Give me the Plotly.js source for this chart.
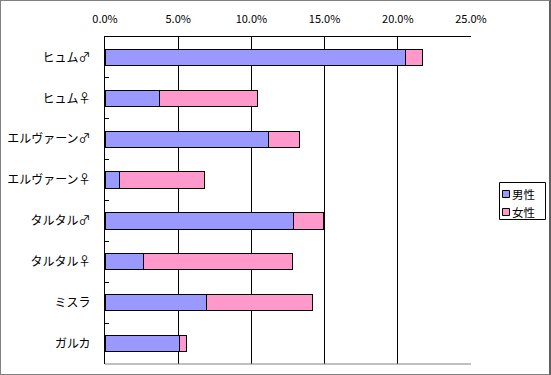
<!DOCTYPE html>
<html><head><meta charset="utf-8">
<script src="https://cdn.plot.ly/plotly-3.0.1.min.js"></script>
<style>
html,body{margin:0;padding:0;background:#fff}
#frame{position:absolute;left:0;top:0;width:551px;height:375px;box-sizing:border-box;border:1px solid #808080;border-right:2px solid #606060;pointer-events:none;z-index:10}
</style>
</head><body>
<div id="chart" style="width:551px;height:375px"></div><div id="frame"></div>
<script>
const categories = ['ヒュム♂','ヒュム♀','エルヴァーン♂','エルヴァーン♀','タルタル♂','タルタル♀','ミスラ','ガルカ'];
const seriesNames = ['男性','女性'];
const maleValues = [20.5, 3.7, 11.2, 1.0, 12.9, 2.6, 6.9, 5.1];
const femaleValues = [1.2, 6.7, 2.1, 5.8, 2.0, 10.2, 7.3, 0.5];
const xTickValues = [0, 5, 10, 15, 20, 25];
const xTickLabels = ['0.0%','5.0%','10.0%','15.0%','20.0%','25.0%'];

const colors = ['#9999FF', '#FF99CC'];
const font = 'Noto Sans CJK JP, sans-serif';

const M = {l: 105, r: 80, t: 37, b: 11};
const W = 551, H = 375;
const pw = W - M.l - M.r, ph = H - M.t - M.b;
const px = x => (x - M.l) / pw;
const py = y => (H - M.b - y) / ph;

const traces = [maleValues, femaleValues].map((vals, i) => ({
  type: 'bar', orientation: 'h',
  name: seriesNames[i], x: vals, y: categories,
  marker: {color: colors[i], line: {color: '#000', width: 1}},
  hoverinfo: 'none', showlegend: false
}));

// custom legend (box + swatches + names)
const shapes = [
  {type: 'line', xref: 'paper', yref: 'paper', x0: 0, x1: 1, y0: 0, y1: 0, line: {color: '#808080', width: 1}},
  {type: 'rect', xref: 'paper', yref: 'paper', x0: px(499.5), x1: px(545.5), y0: py(182.5), y1: py(219.5),
   line: {color: '#000', width: 1}, fillcolor: '#fff'}
];
const annotations = [];
seriesNames.forEach((name, i) => {
  const cy = 194 + i * 18;
  shapes.push({type: 'rect', xref: 'paper', yref: 'paper', x0: px(502.5), x1: px(509.5), y0: py(cy - 3.5), y1: py(cy + 3.5),
    line: {color: '#000', width: 1}, fillcolor: colors[i]});
  annotations.push({xref: 'paper', yref: 'paper', x: px(511), y: py(cy), xanchor: 'left', yanchor: 'middle',
    text: name, showarrow: false, borderpad: 0, font: {family: font, size: 11.5, color: '#000'}});
});

const layout = {
  width: W, height: H,
  margin: {l: M.l, r: M.r, t: M.t, b: M.b, pad: 0},
  paper_bgcolor: '#fff', plot_bgcolor: '#fff',
  barmode: 'stack', bargap: 0.6,
  font: {family: font, size: 12, color: '#000'},
  xaxis: {
    side: 'top', range: [0, 25], tickvals: xTickValues, ticktext: xTickLabels,
    showgrid: true, gridcolor: '#000', gridwidth: 1,
    showline: true, linecolor: '#000', linewidth: 1,
    ticks: '', zeroline: false, ticklabelstandoff: 9,
    tickfont: {family: font, size: 11, color: '#000'}
  },
  yaxis: {
    type: 'category', autorange: 'reversed',
    showline: true, linecolor: '#000', linewidth: 1,
    ticks: 'inside', ticklen: 4, tickcolor: '#000', tickson: 'boundaries',
    showgrid: false, ticklabelstandoff: 11,
    tickfont: {family: font, size: 12, color: '#000'}
  },
  shapes: shapes,
  annotations: annotations,
  showlegend: false
};

Plotly.newPlot('chart', traces, layout, {staticPlot: true, displayModeBar: false});
</script>
</body></html>
